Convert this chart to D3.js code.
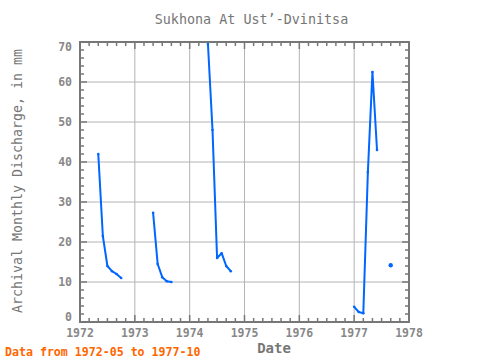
<!DOCTYPE html>
<html><head><meta charset="utf-8">
<script src="https://cdn.jsdelivr.net/npm/d3@7"></script>
<style>body{margin:0;background:#fff}svg{display:block}</style>
</head><body>
<svg id="c" width="480" height="360"></svg>
<script>
// Data: monthly discharge (mm), segments separated by gaps
const seg1Months = ["1972-05","1972-06","1972-07","1972-08","1972-09","1972-10"];
const seg1Values = [42, 21.5, 14, 12.7, 12, 11];
const seg2Months = ["1973-05","1973-06","1973-07","1973-08","1973-09"];
const seg2Values = [27.3, 14.5, 11.2, 10.2, 10];
const seg3Months = ["1974-05","1974-06","1974-07","1974-08","1974-09","1974-10"];
const seg3Values = [69.5, 48, 16, 17.2, 14, 12.7];
const seg4Months = ["1977-01","1977-02","1977-03","1977-04","1977-05","1977-06"];
const seg4Values = [3.8, 2.5, 2.2, 37.5, 62.5, 43];
const seg5Months = ["1977-09"];
const seg5Values = [14.2];
const xTickLabels = [1972,1973,1974,1975,1976,1977,1978];
const yTickLabels = [0,10,20,30,40,50,60,70];

const toYear = s => { const [y,m] = s.split("-").map(Number); return y + (m-1)/12; };
const segments = [[seg1Months,seg1Values],[seg2Months,seg2Values],[seg3Months,seg3Values],[seg4Months,seg4Values],[seg5Months,seg5Values]]
  .map(([ms,vs]) => ms.map((m,i)=>({t:toYear(m), v:vs[i]})));

const L=80, R=409, T=42, B=322;
const x = d3.scaleLinear().domain([1972,1978]).range([L,R]);
const y = d3.scaleLinear().domain([0,70]).range([B,T]);
const svg = d3.select("#c");
const mono = "'DejaVu Sans Mono', 'Liberation Mono', monospace";
const gray = "#767676";

// grid
svg.append("g").selectAll("line").data(xTickLabels.slice(1,-1)).join("line")
  .attr("x1",d=>x(d)).attr("x2",d=>x(d)).attr("y1",T).attr("y2",B)
  .attr("stroke","#b4b4b4").attr("stroke-width",1);
svg.append("g").selectAll("line").data(yTickLabels.slice(1,-1)).join("line")
  .attr("x1",L).attr("x2",R).attr("y1",d=>y(d)).attr("y2",d=>y(d))
  .attr("stroke","#b4b4b4").attr("stroke-width",1);

// ticks (inward)
const tickColor = "#777";
const xMinor = d3.range(0, 37).map(i => 1972 + i/6);
const yMinor = d3.range(0, 36).map(i => i*2);
const tg = svg.append("g").attr("stroke",tickColor).attr("stroke-width",1.5);
xMinor.forEach(t => {
  const major = Math.abs(t - Math.round(t)) < 1e-6;
  const len = major ? 7 : 4;
  tg.append("line").attr("x1",x(t)).attr("x2",x(t)).attr("y1",B).attr("y2",B-len);
  tg.append("line").attr("x1",x(t)).attr("x2",x(t)).attr("y1",T).attr("y2",T+len);
});
yMinor.forEach(v => {
  const major = v % 10 === 0;
  const len = major ? 7 : 4;
  tg.append("line").attr("x1",L).attr("x2",L+len).attr("y1",y(v)).attr("y2",y(v));
  tg.append("line").attr("x1",R).attr("x2",R-len).attr("y1",y(v)).attr("y2",y(v));
});

// frame
svg.append("rect").attr("x",L).attr("y",T).attr("width",R-L).attr("height",B-T)
  .attr("fill","none").attr("stroke","#777").attr("stroke-width",2);

// tick labels
svg.append("g").selectAll("text").data(yTickLabels).join("text")
  .attr("x",L-8).attr("y",d=>Math.min(Math.max(y(d),T+5),B-5)).attr("dy","0.35em")
  .attr("text-anchor","end").attr("font-family",mono).attr("font-size",11.5).attr("font-weight","bold")
  .attr("fill","#888").text(d=>d);
svg.append("g").selectAll("text").data(xTickLabels).join("text")
  .attr("x",d=>x(d)).attr("y",B+15).attr("text-anchor","middle")
  .attr("font-family",mono).attr("font-size",11.5).attr("font-weight","bold").attr("fill","#888").text(d=>d);

// titles
svg.append("text").attr("x",251.5).attr("y",24).attr("text-anchor","middle")
  .attr("font-family",mono).attr("font-size",13.4).attr("fill",gray)
  .text("Sukhona At Ust’-Dvinitsa");
svg.append("text").attr("x",274).attr("y",353).attr("text-anchor","middle")
  .attr("font-family",mono).attr("font-size",14).attr("font-weight","bold").attr("fill",gray)
  .text("Date");
svg.append("text").attr("transform","translate(22,181) rotate(-90)").attr("text-anchor","middle")
  .attr("font-family",mono).attr("font-size",13.3).attr("fill",gray)
  .text("Archival Monthly Discharge, in mm");
svg.append("text").attr("x",5).attr("y",356)
  .attr("font-family",mono).attr("font-size",11.6).attr("font-weight","bold").attr("fill","#ff6600")
  .text("Data from 1972-05 to 1977-10");

// data
const line = d3.line().x(d=>x(d.t)).y(d=>y(d.v));
const blue = "#0066ff";
svg.append("g").selectAll("path").data(segments.filter(s=>s.length>1)).join("path")
  .attr("d",line).attr("fill","none").attr("stroke",blue).attr("stroke-width",2)
  .attr("stroke-linejoin","round");
svg.append("g").selectAll("circle").data(segments.flat()).join("circle")
  .attr("cx",d=>x(d.t)).attr("cy",d=>y(d.v)).attr("r",d=>1.3).attr("fill",blue);
svg.append("g").selectAll("circle").data(segments.filter(s=>s.length===1).flat()).join("circle")
  .attr("cx",d=>x(d.t)).attr("cy",d=>y(d.v)).attr("r",2.2).attr("fill",blue);
</script>
</body></html>
